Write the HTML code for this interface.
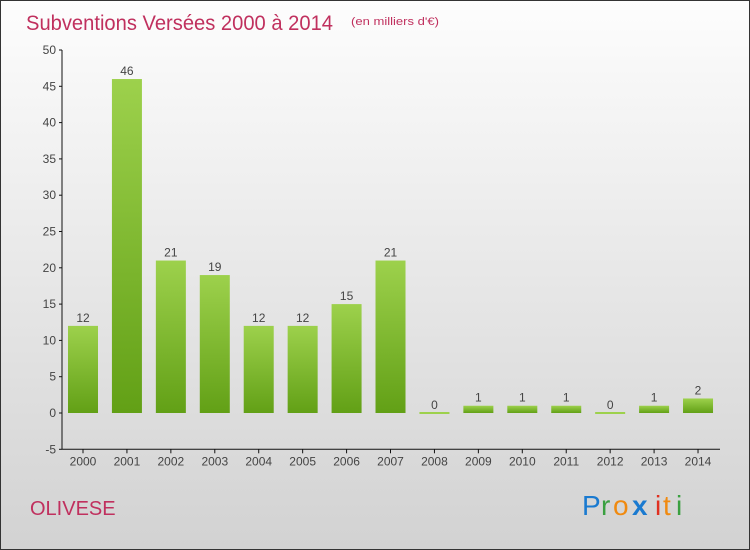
<!DOCTYPE html>
<html><head><meta charset="utf-8"><style>
body{margin:0;width:750px;height:550px;overflow:hidden}
svg{display:block;font-family:"Liberation Sans",sans-serif}
</style></head><body>
<svg width="750" height="550" viewBox="0 0 750 550">
<defs>
<linearGradient id="bg" x1="0" y1="0" x2="0" y2="1"><stop offset="0" stop-color="#fdfdfd"/><stop offset="1" stop-color="#d2d2d2"/></linearGradient>
<linearGradient id="bar" x1="0" y1="0" x2="0" y2="1"><stop offset="0" stop-color="#9dd14c"/><stop offset="1" stop-color="#62a016"/></linearGradient>
</defs>
<rect x="0.5" y="0.5" width="749" height="549" fill="url(#bg)" stroke="#333"/>
<text x="26" y="30" font-size="21" fill="#c0305e" textLength="307" lengthAdjust="spacingAndGlyphs">Subventions Versées 2000 à 2014</text>
<text x="351" y="25" font-size="11" fill="#c0305e" textLength="88" lengthAdjust="spacingAndGlyphs">(en milliers d'€)</text>
<text x="30" y="515" font-size="20" fill="#c0305e">OLIVESE</text>
<g font-size="28">
<text x="582" y="515" fill="#1a7ad0">P</text><text x="601" y="515" fill="#3aa040">r</text><text x="613" y="515" fill="#f08a10">o</text><text x="632" y="515" fill="#1a7ad0" font-weight="bold">x</text><text x="655" y="515" fill="#e03020">i</text><text x="663" y="515" fill="#f08a10">t</text><text x="676" y="515" fill="#3aa040">i</text>
</g>
<g id="axes"></g>
<g id="bars"></g>
</svg>
<script>
const years=["2000","2001","2002","2003","2004","2005","2006","2007","2008","2009","2010","2011","2012","2013","2014"];
const values=[12,46,21,19,12,12,15,21,0,1,1,1,0,1,2];
const yTicks=[-5,0,5,10,15,20,25,30,35,40,45,50];
const NS="http://www.w3.org/2000/svg";
const y=v=>413-v*7.26;
const x=i=>83+i*43.93;
function mk(t,a,p){const e=document.createElementNS(NS,t);for(const k in a)e.setAttribute(k,a[k]);p.appendChild(e);return e;}
const ax=document.getElementById('axes'),bg=document.getElementById('bars');
const yl=mk('line',{x1:62,y1:y(50),x2:62,y2:y(-5),stroke:'#111'},ax);


const xl=mk('line',{x1:62,y1:y(-5),x2:720,y2:y(-5),stroke:'#111'},ax);


yTicks.forEach(v=>{
 mk('line',{x1:59,x2:62,y1:y(v),y2:y(v),stroke:'#111'},ax);
 const t=mk('text',{x:56,y:y(v)+4,'text-anchor':'end','font-size':12,fill:'#444'},ax);t.textContent=v;
 
 
});
years.forEach((yr,i)=>{
 mk('line',{x1:x(i),x2:x(i),y1:y(-5),y2:y(-5)+4,stroke:'#111'},ax);
 const t=mk('text',{x:x(i),y:y(-5)+16,'text-anchor':'middle','font-size':12,fill:'#444'},ax);t.textContent=yr;
 
 
 const v=values[i];
 const h=Math.max(y(0)-y(v),2);
 const r=mk('rect',{x:x(i)-15,y:y(0)-h+(v===0?1:0),width:30,height:h,fill:v===0?'#9dd14c':'url(#bar)'},bg);
 
 
 const l=mk('text',{x:x(i),y:y(v)-4,'text-anchor':'middle','font-size':12,fill:'#444'},bg);l.textContent=v;
 
 
});
</script>
</body></html>
